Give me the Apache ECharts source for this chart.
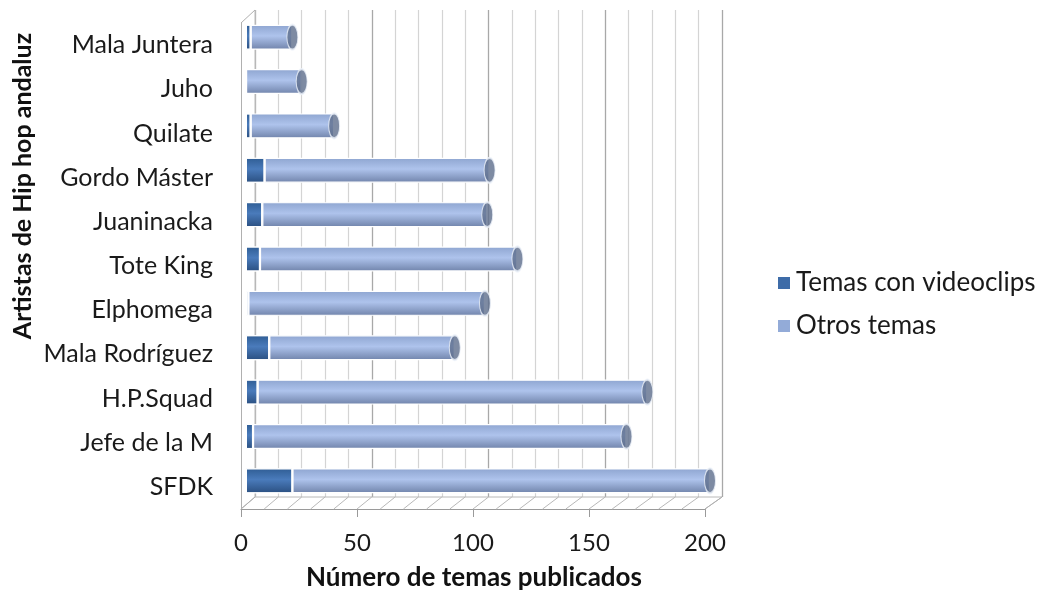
<!DOCTYPE html>
<html><head><meta charset="utf-8">
<script src="https://cdn.jsdelivr.net/npm/echarts@6/dist/echarts.min.js"></script>
<style>html,body{margin:0;padding:0;background:#fff}#c{width:1043px;height:596px}</style>
</head><body><div id="c"></div>
<script>
const categories = ['Mala Juntera','Juho','Quilate','Gordo Máster','Juaninacka','Tote King','Elphomega','Mala Rodríguez','H.P.Squad','Jefe de la M','SFDK'];
const videoclips = [2, 0, 2, 8, 7, 6, 1, 10, 5, 3, 20];
const otros = [18, 24, 36, 97, 97, 111, 102, 80, 168, 161, 180];
const xTicks = [0, 50, 100, 150, 200];
const seriesNames = ['Temas con videoclips', 'Otros temas'];
const xTitle = 'Número de temas publicados';
const yTitle = 'Artistas de Hip hop andaluz';

const FONT = 'Lato, "Open Sans", sans-serif';
const chart = echarts.init(document.getElementById('c'), null, {renderer: 'canvas'});

function grad(top, mid, bot) {
  return new echarts.graphic.LinearGradient(0, 0, 0, 1, [
    {offset: 0, color: top}, {offset: 0.45, color: mid}, {offset: 1, color: bot}
  ]);
}
const totals = categories.map((c, i) => videoclips[i] + otros[i]);

const baseGraphic = [
  {type: 'text', x: 23, y: 186, rotation: Math.PI / 2, z: 10,
   style: {text: yTitle, fontSize: 25, fontWeight: 'bold', fontFamily: FONT, fill: '#111',
     textAlign: 'center', textVerticalAlign: 'middle'}},
  {type: 'text', x: 474, y: 578, z: 10,
   style: {text: xTitle, fontSize: 26, fontWeight: 'bold', fontFamily: FONT, fill: '#111',
     textAlign: 'center', textVerticalAlign: 'middle'}}
];

const option = {
  animation: false,
  backgroundColor: '#ffffff',
  grid: [
    {left: 241, width: 464, top: 23, height: 486},   // front: labels
    {left: 255, width: 467, top: 10, height: 487},   // back wall
    {left: 246, width: 464, top: 15, height: 488}    // bars
  ],
  xAxis: [
    {gridIndex: 0, type: 'value', min: 0, max: 200, interval: 50,
     axisLine: {show: true, lineStyle: {color: '#9a9a9a', width: 1}},
     axisTick: {show: true, length: 8, lineStyle: {color: '#9a9a9a'}},
     axisLabel: {fontSize: 24, color: '#1a1a1a', fontFamily: FONT, margin: 22,
       formatter: v => xTicks.indexOf(v) >= 0 ? String(v) : ''},
     splitLine: {show: false}},
    {gridIndex: 1, type: 'value', min: 0, max: 200, interval: 50,
     axisLine: {show: false}, axisTick: {show: false}, axisLabel: {show: false},
     splitLine: {show: true, lineStyle: {color: '#a8a8a8', width: 1.3}},
     minorTick: {show: false, splitNumber: 5},
     minorSplitLine: {show: true, lineStyle: {color: '#d4d4d4', width: 1.2}}},
    {gridIndex: 2, type: 'value', min: 0, max: 200,
     axisLine: {show: false}, axisTick: {show: false}, axisLabel: {show: false}, splitLine: {show: false}}
  ],
  yAxis: [
    {gridIndex: 0, type: 'category', data: categories, inverse: true,
     axisLine: {show: true, lineStyle: {color: '#b0b0b0'}}, axisTick: {show: false},
     axisLabel: {fontSize: 25, color: '#1a1a1a', fontFamily: FONT, margin: 28}},
    {gridIndex: 1, type: 'value', show: false},
    {gridIndex: 2, type: 'category', data: categories, inverse: true, show: false}
  ],
  legend: {
    orient: 'vertical', left: 771, top: 263, itemGap: 13,
    itemWidth: 14, itemHeight: 14, icon: 'rect',
    textStyle: {fontSize: 26, lineHeight: 30, color: '#1a1a1a', fontFamily: FONT},
    data: [
      {name: seriesNames[0], itemStyle: {color: '#3e6ca8'}},
      {name: seriesNames[1], itemStyle: {color: '#93abd8'}}
    ]
  },
  series: [
    {name: seriesNames[0], type: 'bar', stack: 's', xAxisIndex: 2, yAxisIndex: 2,
     barWidth: 25, data: videoclips,
     itemStyle: {color: grad('#2f5d94', '#4a7bbb', '#2a4f80'), borderColor: '#ffffff', borderWidth: 1}},
    {name: seriesNames[1], type: 'bar', stack: 's', xAxisIndex: 2, yAxisIndex: 2,
     barWidth: 25, data: otros,
     itemStyle: {color: grad('#8ea5d0', '#aec3ec', '#7083aa'), borderColor: '#ffffff', borderWidth: 1.2}},
    {name: 'cap', type: 'scatter', xAxisIndex: 2, yAxisIndex: 2,
     data: totals.map((t, i) => [t, categories[i]]),
     symbol: 'circle', symbolSize: [11, 25], z: 5,
     itemStyle: {color: '#5e6e8c', borderColor: '#eef2fa', borderWidth: 1.5}}
  ],
  graphic: baseGraphic
};
chart.setOption(option);

// decorative 3D frame: floor hatch lines and wall edges
const deco = [];
for (let v = 0; v <= 200; v += 10) {
  const fx = chart.convertToPixel({xAxisIndex: 0}, v);
  const bx = chart.convertToPixel({xAxisIndex: 1}, v);
  deco.push({type: 'line', silent: true, z: 1,
    shape: {x1: fx, y1: 509, x2: bx, y2: 497},
    style: {stroke: '#b8b8b8', lineWidth: 1}});
}
const x0f = chart.convertToPixel({xAxisIndex: 0}, 0), x1f = chart.convertToPixel({xAxisIndex: 0}, 200);
const x0b = chart.convertToPixel({xAxisIndex: 1}, 0), x1b = chart.convertToPixel({xAxisIndex: 1}, 200);
deco.push({type: 'line', silent: true, z: 1, shape: {x1: x0b, y1: 497, x2: x1b, y2: 497}, style: {stroke: '#b8b8b8', lineWidth: 1}});
deco.push({type: 'line', silent: true, z: 1, shape: {x1: x0b, y1: 10, x2: x0b, y2: 497}, style: {stroke: '#c8c8c8', lineWidth: 1}});
deco.push({type: 'line', silent: true, z: 1, shape: {x1: x0f, y1: 23, x2: x0b, y2: 10}, style: {stroke: '#b0b0b0', lineWidth: 1}});
deco.push({type: 'line', silent: true, z: 1, shape: {x1: x0f, y1: 509, x2: x0b, y2: 497}, style: {stroke: '#b0b0b0', lineWidth: 1}});
deco.push({type: 'line', silent: true, z: 1, shape: {x1: x1f, y1: 509, x2: x1b, y2: 497}, style: {stroke: '#b0b0b0', lineWidth: 1}});
chart.setOption({graphic: baseGraphic.concat(deco)});
</script>
</body></html>
